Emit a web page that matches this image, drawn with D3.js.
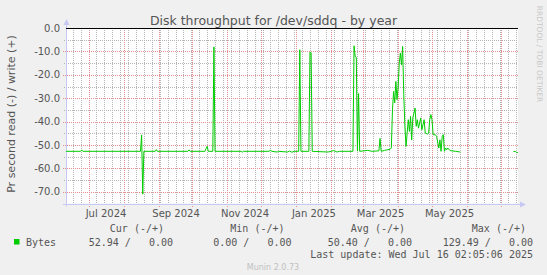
<!DOCTYPE html>
<html>
<head>
<meta charset="utf-8">
<script src="https://cdn.jsdelivr.net/npm/d3@7"></script>
<style>
  body { margin: 0; background: #f0f0f0; }
  text { font-family: "DejaVu Sans", sans-serif; }
  .mono { font-family: "DejaVu Sans Mono", monospace; white-space: pre; }
  .major line { shape-rendering: crispEdges; stroke-dasharray: 1 1; stroke-width: 1; }
  .minor line { shape-rendering: crispEdges; stroke-dasharray: 1 1; stroke-width: 1; }
</style>
</head>
<body>
<svg id="chart" width="547" height="275"></svg>
<script>
// read (-) series, bytes per second, one value per day
var readDates = [
    "2024-06-11", "2024-06-24", "2024-06-25", "2024-06-26", "2024-08-16", "2024-08-17",
    "2024-08-18", "2024-08-19", "2024-08-29", "2024-08-30", "2024-08-31", "2024-09-27",
    "2024-09-28", "2024-09-29", "2024-10-12", "2024-10-13", "2024-10-14", "2024-10-15",
    "2024-10-19", "2024-10-20", "2024-10-21", "2024-11-13", "2024-11-14", "2024-11-15",
    "2024-12-08", "2024-12-09", "2024-12-10", "2024-12-15", "2024-12-16", "2024-12-24",
    "2024-12-26", "2024-12-28", "2024-12-30", "2025-01-03", "2025-01-04", "2025-01-05",
    "2025-01-12", "2025-01-13", "2025-01-14", "2025-01-15", "2025-01-29", "2025-02-03",
    "2025-02-06", "2025-02-08", "2025-02-20", "2025-02-21", "2025-02-22", "2025-02-23",
    "2025-02-24", "2025-02-25", "2025-02-26", "2025-03-05", "2025-03-09", "2025-03-15",
    "2025-03-16", "2025-03-17", "2025-03-20", "2025-03-23", "2025-03-25", "2025-03-26",
    "2025-03-27", "2025-03-28", "2025-03-29", "2025-03-30", "2025-03-31", "2025-04-01",
    "2025-04-02", "2025-04-03", "2025-04-04", "2025-04-05", "2025-04-06", "2025-04-07",
    "2025-04-08", "2025-04-09", "2025-04-10", "2025-04-11", "2025-04-12", "2025-04-13",
    "2025-04-14", "2025-04-16", "2025-04-17", "2025-04-18", "2025-04-19", "2025-04-20",
    "2025-04-21", "2025-04-22", "2025-04-24", "2025-04-25", "2025-04-27", "2025-04-28",
    "2025-04-29", "2025-04-30", "2025-05-01", "2025-05-02", "2025-05-04", "2025-05-05",
    "2025-05-07", "2025-05-08", "2025-05-09", "2025-05-10", "2025-05-11", "2025-05-12",
    "2025-05-13", "2025-05-14", "2025-05-15", "2025-05-17", "2025-05-22", "2025-05-26",
    "2025-05-27", "2025-07-11", "2025-07-12", "2025-07-14", "2025-07-15", "2025-07-16"
];
var readValues = [
    -52.7, -52.7, -52.1, -52.7, -52.7, -45.7,
    -71.0, -52.7, -52.7, -52.0, -52.7, -52.7,
    -52.1, -52.7, -52.7, -51.6, -50.6, -52.7,
    -52.7, -8.1, -52.7, -52.7, -53.1, -52.7,
    -52.7, -52.1, -52.7, -53.0, -52.7, -53.0,
    -52.6, -53.1, -52.7, -52.7, -9.3, -52.7,
    -52.7, -10.3, -10.6, -52.7, -53.0, -52.4,
    -53.0, -52.7, -52.7, -7.6, -12.2, -12.5,
    -52.6, -28.0, -52.7, -52.3, -52.7, -52.5,
    -47.2, -52.7, -52.3, -52.0, -51.8, -51.2,
    -35.0, -27.1, -32.0, -22.8, -30.6, -25.7,
    -15.0, -10.7, -15.7, -7.9, -28.5, -42.0,
    -50.6, -44.8, -39.2, -44.2, -37.8, -47.8,
    -38.5, -34.2, -42.0, -39.2, -42.8, -40.6,
    -38.5, -43.5, -39.2, -44.9, -45.3, -44.9,
    -39.2, -37.0, -39.2, -45.6, -45.6, -46.3,
    -51.3, -47.8, -52.7, -46.3, -45.6, -52.7,
    -51.3, -52.0, -51.3, -52.4, -52.7, -53.0,
    null, null, -52.8, -52.8, -53.2, -53.2
];
var yTicks = [0, -10, -20, -30, -40, -50, -60, -70];
var yMinorTicks = [-5, -15, -25, -35, -45, -55, -65, -75];
var xLabelMonths = ["2024-07", "2024-09", "2024-11", "2025-01", "2025-03", "2025-05"];
var legendHeaders = ["Cur (-/+)", "Min (-/+)", "Avg (-/+)", "Max (-/+)"];
var legendValues = ["52.94 /   0.00", "0.00 /   0.00", "50.40 /   0.00", "129.49 /   0.00"];
var seriesName = "Bytes";
var lastUpdate = "Last update: Wed Jul 16 02:05:06 2025";

var W = 547, H = 275;
var plot = { left: 66, right: 518, top: 28, bottom: 203.5 };
var green = "#00cc00";

var svg = d3.select("#chart");
svg.append("rect").attr("width", W).attr("height", H).attr("fill", "#f0f0f0");

var parseDay = d3.timeParse("%Y-%m-%d");
var parseMonth = d3.timeParse("%Y-%m");
var x = d3.scaleTime()
    .domain([new Date(2024, 5, 11, 2, 5, 6), new Date(2025, 6, 16, 2, 5, 6)])
    .range([plot.left, plot.right]);
var y = d3.scaleLinear().domain([-75, 0]).range([plot.bottom, plot.top]);
var fmt = d3.formatLocale({ decimal: ".", thousands: ",", grouping: [3], currency: ["", ""], minus: "-" }).format(".1f");

svg.append("rect")
    .attr("x", plot.left).attr("y", plot.top)
    .attr("width", plot.right - plot.left).attr("height", plot.bottom - plot.top)
    .attr("fill", "#ffffff");

function px(v) { return Math.round(v) + 0.5; }

// minor grid: weeks and every 5
var minor = svg.append("g").attr("class", "minor");
var weeks = d3.timeWeek.every(1).range(x.domain()[0], x.domain()[1]).map(function(d) { return d3.timeDay.offset(d, 1); });
minor.selectAll("line.wk").data(weeks).enter().append("line")
    .attr("class", "wk")
    .attr("x1", function(d) { return px(x(d)); }).attr("x2", function(d) { return px(x(d)); })
    .attr("y1", plot.top).attr("y2", plot.bottom + 2)
    .attr("stroke", "#b4b4b4");
minor.selectAll("line.my").data(yMinorTicks).enter().append("line")
    .attr("class", "my")
    .attr("x1", plot.left - 2).attr("x2", plot.right)
    .attr("y1", function(d) { return px(y(d)); }).attr("y2", function(d) { return px(y(d)); })
    .attr("stroke", "#b4b4b4");

// major grid: months and every 10
var major = svg.append("g").attr("class", "major");
var months = d3.timeMonth.range(x.domain()[0], x.domain()[1]);
major.selectAll("line.mo").data(months).enter().append("line")
    .attr("class", "mo")
    .attr("x1", function(d) { return px(x(d)); }).attr("x2", function(d) { return px(x(d)); })
    .attr("y1", plot.top).attr("y2", plot.bottom + 3)
    .attr("stroke", "#e49090");
major.selectAll("line.mj").data(yTicks.filter(function(v) { return v !== 0; })).enter().append("line")
    .attr("class", "mj")
    .attr("x1", plot.left - 3).attr("x2", plot.right)
    .attr("y1", function(d) { return px(y(d)); }).attr("y2", function(d) { return px(y(d)); })
    .attr("stroke", "#e49090");

// axes
var axisColor = "#c8c8f4";
svg.append("line").attr("x1", px(plot.left)).attr("x2", px(plot.left))
    .attr("y1", plot.bottom + 3).attr("y2", plot.top - 6).attr("stroke", axisColor);
svg.append("path").attr("d", "M" + (plot.left - 2.5) + "," + (plot.top - 3) + "L" + (plot.left + 3.5) + "," + (plot.top - 3) + "L" + (plot.left + 0.5) + "," + (plot.top - 9) + "Z")
    .attr("fill", axisColor);
svg.append("line").attr("x1", plot.left - 3).attr("x2", plot.right + 4)
    .attr("y1", px(plot.bottom)).attr("y2", px(plot.bottom)).attr("stroke", axisColor);
svg.append("path").attr("d", "M" + (plot.right + 2) + "," + (px(plot.bottom) - 3) + "L" + (plot.right + 2) + "," + (px(plot.bottom) + 3) + "L" + (plot.right + 8) + "," + px(plot.bottom) + "Z")
    .attr("fill", axisColor);

// y tick labels
svg.selectAll("text.yt").data(yTicks).enter().append("text")
    .attr("x", 60).attr("y", function(d) { return y(d) + 3.5; })
    .attr("text-anchor", "end").attr("font-size", 10).attr("fill", "#555")
    .text(function(d) { return fmt(d); });

// x labels (centered mid-month like rrdtool)
var labFmt = d3.timeFormat("%b %Y");
svg.selectAll("text.xt").data(xLabelMonths.map(parseMonth)).enter().append("text")
    .attr("x", function(d) { return x(d3.timeHour.offset(d, 372)); }).attr("y", 217)
    .attr("text-anchor", "middle").attr("font-size", 10).attr("fill", "#555")
    .text(function(d) { return labFmt(d); });

// zero line (write series)
svg.append("line").attr("x1", plot.left).attr("x2", plot.right)
    .attr("y1", px(y(0))).attr("y2", px(y(0))).attr("stroke", "#000");

// read series
var pts = readDates.map(function(d, i) { return { date: parseDay(d), value: readValues[i] }; });
var line = d3.line()
    .defined(function(d) { return d.value !== null; })
    .x(function(d) { return x(d.date); })
    .y(function(d) { return y(d.value); });
svg.append("path").datum(pts).attr("d", line)
    .attr("fill", "none").attr("stroke", green).attr("stroke-width", 1);

// title and labels
svg.append("text").attr("x", 273.5).attr("y", 25).attr("text-anchor", "middle")
    .attr("font-size", 12.5).attr("fill", "#555").text("Disk throughput for /dev/sddq - by year");
svg.append("text").attr("transform", "translate(15,114) rotate(-90)").attr("text-anchor", "middle")
    .attr("font-size", 11).attr("fill", "#555").text("Pr second read (-) / write (+)");
svg.append("text").attr("transform", "translate(537,54) rotate(90)").attr("text-anchor", "middle")
    .attr("font-size", 7.5).attr("fill", "#c8c8c8").text("RRDTOOL / TOBI OETIKER");

// legend
var colEnds = [164, 284.5, 405, 526];
svg.selectAll("text.lh").data(legendHeaders).enter().append("text")
    .attr("class", "mono").attr("x", function(d, i) { return colEnds[i]; }).attr("y", 232)
    .attr("text-anchor", "end").attr("font-size", 10).attr("fill", "#555")
    .text(function(d) { return d; });
svg.append("rect").attr("x", 14).attr("y", 239).attr("width", 5.5).attr("height", 5.5).attr("fill", green);
svg.append("text").attr("class", "mono").attr("x", 26).attr("y", 245.5)
    .attr("font-size", 10).attr("fill", "#555").text(seriesName);
svg.selectAll("text.lv").data(legendValues).enter().append("text")
    .attr("class", "mono").attr("x", function(d, i) { return colEnds[i] + (i === 0 ? 9 : 7); }).attr("y", 245.5)
    .attr("text-anchor", "end").attr("font-size", 10).attr("fill", "#555")
    .text(function(d) { return d; });
svg.append("text").attr("class", "mono").attr("x", 533).attr("y", 257.5)
    .attr("text-anchor", "end").attr("font-size", 10).attr("fill", "#555").text(lastUpdate);
svg.append("text").attr("x", 273).attr("y", 270).attr("text-anchor", "middle")
    .attr("font-size", 8).attr("fill", "#c0c0c0").text("Munin 2.0.73");
</script>
</body>
</html>
